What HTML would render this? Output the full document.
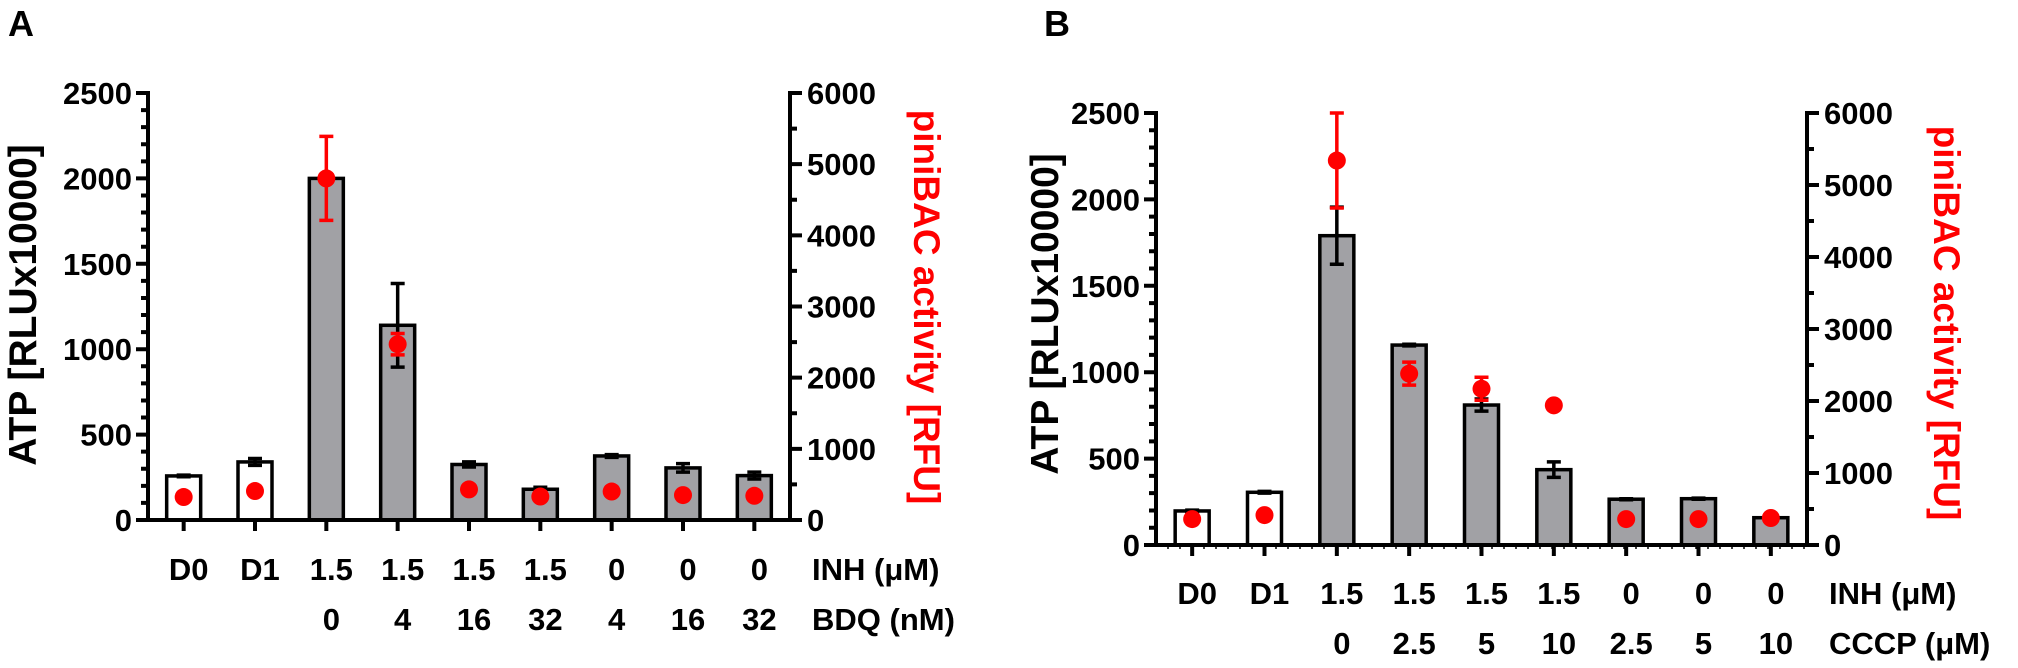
<!DOCTYPE html>
<html><head><meta charset="utf-8">
<style>
html,body{margin:0;padding:0;background:#fff;}
svg{display:block;font-family:"Liberation Sans",Arial,sans-serif;font-weight:bold;}
</style></head>
<body>
<svg id="chart" width="2018" height="668" viewBox="0 0 2018 668" xmlns="http://www.w3.org/2000/svg">
<text x="8" y="36" font-size="36">A</text>
<text x="1044" y="36" font-size="36">B</text>
</svg>
<script>
// Panel A data
const catsA_row1 = ["D0","D1","1.5","1.5","1.5","1.5","0","0","0"];
const catsA_row2 = ["","","0","4","16","32","4","16","32"];
const atpA = [258,340,2000,1140,325,180,375,305,260];
const atpErrA = [5,20,0,245,15,12,8,25,20];
const pinA = [323,407,4800,2470,430,330,400,350,340];
const pinErrA = [0,0,590,150,0,0,0,0,0];
const whiteA = [true,true,false,false,false,false,false,false,false];
// Panel B data
const catsB_row1 = ["D0","D1","1.5","1.5","1.5","1.5","0","0","0"];
const catsB_row2 = ["","","0","2.5","5","10","2.5","5","10"];
const atpB = [197,305,1790,1157,810,436,265,268,158];
const atpErrB = [5,5,165,5,35,45,3,3,3];
const pinB = [360,415,5340,2380,2170,1940,360,360,375];
const pinErrB = [0,0,660,160,160,0,0,0,0];
const whiteB = [true,true,false,false,false,false,false,false,false];
const leftTicks = [0,500,1000,1500,2000,2500];
const rightTicks = [0,1000,2000,3000,4000,5000,6000];

const NS="http://www.w3.org/2000/svg";
const svg=document.getElementById('chart');
function mk(tag,attrs,parent){const e=document.createElementNS(NS,tag);for(const k in attrs)e.setAttribute(k,attrs[k]);(parent||svg).appendChild(e);return e;}

function panel(p){
  const g=mk('g',{});
  
  
  const yL=v=>p.y0-(p.y0-p.yTop)*v/2500;
  const yR=v=>p.y0-(p.y0-p.yTop)*v/6000;
  const band=(p.xR-p.xL)/p.atp.length;
  const xC=i=>p.xL+band*(i+0.5);
  // bars
  p.atp.forEach((v,i)=>{
    const bw=34;
    const r=mk('rect',{x:xC(i)-bw/2,y:yL(v),width:bw,height:p.y0-yL(v),fill:p.white[i]?'#fff':'#a1a1a5',stroke:'#000','stroke-width':3.5},g);
    
    
    if(p.atpErr[i]>0){
      const e=mk('path',{d:`M${xC(i)},${yL(v-p.atpErr[i])}V${yL(v+p.atpErr[i])}M${xC(i)-7},${yL(v+p.atpErr[i])}H${xC(i)+7}M${xC(i)-7},${yL(v-p.atpErr[i])}H${xC(i)+7}`,stroke:'#000','stroke-width':3.5,fill:'none'},g);
      
      
    }
  });
  // red dots
  p.pin.forEach((v,i)=>{
    if(p.pinErr[i]>0){
      const e=mk('path',{d:`M${xC(i)},${yR(v-p.pinErr[i])}V${yR(v+p.pinErr[i])}M${xC(i)-7},${yR(v+p.pinErr[i])}H${xC(i)+7}M${xC(i)-7},${yR(v-p.pinErr[i])}H${xC(i)+7}`,stroke:'#f00','stroke-width':3.5,fill:'none'},g);
      
      
    }
    const c=mk('circle',{cx:xC(i),cy:yR(v),r:9,fill:'#f00'},g);
    
    
  });
  // axes
  const ax=mk('path',{d:`M${p.xL},${p.yTop-2}V${p.y0}H${p.xR}V${p.yTop-2}`,stroke:'#000','stroke-width':4,fill:'none'},g);
  
  
  let d='';
  for(let v=0;v<=2500;v+=100){const L=v%500===0?12:7;d+=`M${p.xL-L},${yL(v)}H${p.xL}`;}
  for(let v=0;v<=6000;v+=500){const L=v%1000===0?12:7;d+=`M${p.xR},${yR(v)}H${p.xR+L}`;}
  p.atp.forEach((v,i)=>{d+=`M${xC(i)},${p.y0}V${p.y0+11}`;});
  mk('path',{d:d,stroke:'#000','stroke-width':4,fill:'none'},g);
  if(p.minorX){let m='';for(let x=p.xL+12;x<p.xR;x+=12)m+=`M${x},${p.y0}V${p.y0+4}`;mk('path',{d:m,stroke:'#000','stroke-width':1.5},g);}
  leftTicks.forEach(v=>{const t=mk('text',{x:p.xL-16,y:yL(v)+11,'font-size':31,'text-anchor':'end'},g);t.textContent=v;
    });
  rightTicks.forEach(v=>{const t=mk('text',{x:p.xR+17,y:yR(v)+11,'font-size':31},g);t.textContent=v;
    });
  p.row1.forEach((s,i)=>{const t=mk('text',{x:xC(i)+5,y:p.r1y,'font-size':31,'text-anchor':'middle'},g);t.textContent=s;
    });
  p.row2.forEach((s,i)=>{if(!s)return;const t=mk('text',{x:xC(i)+5,y:p.r2y,'font-size':31,'text-anchor':'middle'},g);t.textContent=s;
    });
  const n1=mk('text',{x:p.xR+22,y:p.r1y,'font-size':31},g);n1.textContent='INH (\u03bcM)';
  
  const n2=mk('text',{x:p.xR+22,y:p.r2y,'font-size':31},g);n2.textContent=p.row2title;
  
  const yl=mk('text',{transform:`translate(${p.ylx},${p.yly}) rotate(-90)`,'font-size':39,'text-anchor':'middle'},g);
  yl.textContent='ATP [RLUx10000]';
  
  const yr=mk('text',{transform:`translate(${p.yrx},${p.yry}) rotate(90)`,'font-size':37,'text-anchor':'middle',fill:'#f00'},g);
  yr.textContent='piniBAC activity [RFU]';
  
}
panel({id:'panel-a',xL:148,xR:790,y0:520,yTop:93,atp:atpA,atpErr:atpErrA,pin:pinA,pinErr:pinErrA,white:whiteA,
  row1:catsA_row1,row2:catsA_row2,row2title:'BDQ (nM)',r1y:580,r2y:630,ylx:36,yly:305,yrx:914,yry:307,minorX:false});
panel({id:'panel-b',xL:1156,xR:1807,y0:545,yTop:113,atp:atpB,atpErr:atpErrB,pin:pinB,pinErr:pinErrB,white:whiteB,
  row1:catsB_row1,row2:catsB_row2,row2title:'CCCP (\u03bcM)',r1y:604,r2y:654,ylx:1058,yly:314,yrx:1934,yry:323,minorX:true});
</script>
</body></html>
